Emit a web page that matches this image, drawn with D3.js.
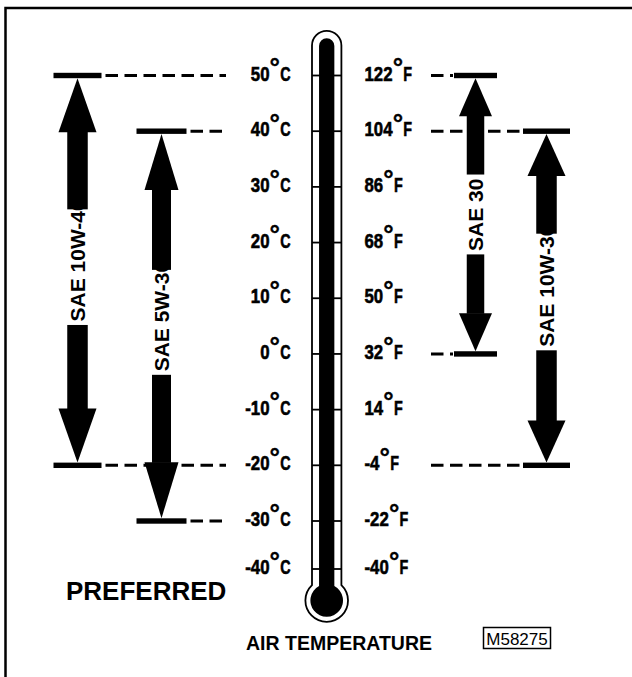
<!DOCTYPE html>
<html>
<head>
<meta charset="utf-8">
<script src="https://cdn.jsdelivr.net/npm/d3@7"></script>
<style>
  body { margin: 0; background: #fff; }
  svg { display: block; }
</style>
</head>
<body>
<script>
// thermometer scale, as printed
let celsius = [50, 40, 30, 20, 10, 0, -10, -20, -30, -40];
let fahrenheit = [122, 104, 86, 68, 50, 32, 14, -4, -22, -40];

// oil grades and the air temperature range (deg C) each one covers
let grades = ['SAE 10W-40', 'SAE 5W-30', 'SAE 30', 'SAE 10W-30'];
let gradeLow = [-20, -30, 0, -20];
let gradeHigh = [50, 40, 50, 40];
let gradeSide = ['left', 'left', 'right', 'right'];

// drawing look for each arrow (px)
let arrowLook = {
  'SAE 10W-40': {bar: 48, shaft: 20.5, head: 38, headLen: 54, shift: -5, hide: 10},
  'SAE 5W-30': {bar: 50, shaft: 19, head: 34, headLen: 56, shift: -5.5, hide: 9},
  'SAE 30': {bar: 43, shaft: 17.5, head: 33, headLen: 38, shift: -2, hide: -4},
  'SAE 10W-30': {bar: 47, shaft: 20.5, head: 38, headLen: 42, shift: -8, hide: 9}
};

let sans = '"Liberation Sans", Arial, Helvetica, sans-serif';

let svg = d3.select('body').append('svg').attr('width', 632).attr('height', 677);

// the -40 mark sits a bit closer to -30 than the other steps on the original
let y = d3.scaleLinear().domain([50, -30, -40]).range([75.5, 521, 569]);
let x = d3.scaleOrdinal().domain(grades).range([77.5, 161.5, 475.5, 546.5]);

let thermoX = 326.7;
let barH = 5.4;

// frame (only top and left edges are on the page)
svg.append('path')
  .attr('d', 'M5.5,677 L5.5,8 L632,8')
  .attr('fill', 'none').attr('stroke', 'black').attr('stroke-width', 2.5);

// dashed leader lines
let grp = grades.map(function(g, i) {
  return {name: g, lo: gradeLow[i], hi: gradeHigh[i], side: gradeSide[i]};
});
let leaders = [];
grp.forEach(function(d) {
  [d.lo, d.hi].forEach(function(t) {
    let half = arrowLook[d.name].bar / 2;
    if (d.side === 'left') {
      leaders.push({t: t, x1: x(d.name) + half + 4, x2: 226});
    } else {
      leaders.push({t: t, x1: 431, x2: x(d.name) - half - 1});
    }
  });
});
svg.selectAll('line.leader').data(leaders).enter().append('line')
  .attr('class', 'leader')
  .attr('x1', function(d) {return d.x1})
  .attr('x2', function(d) {return d.x2})
  .attr('y1', function(d) {return y(d.t)})
  .attr('y2', function(d) {return y(d.t)})
  .attr('stroke', 'black').attr('stroke-width', 3)
  .attr('stroke-dasharray', '12.5,6.5');

// thermometer
function tube(halfW, topY, bulbCy, bulbR) {
  let joinY = bulbCy - Math.sqrt(bulbR * bulbR - halfW * halfW);
  return 'M' + (thermoX - halfW) + ',' + topY +
    ' A' + halfW + ',' + halfW + ' 0 0 1 ' + (thermoX + halfW) + ',' + topY +
    ' L' + (thermoX + halfW) + ',' + joinY +
    ' A' + bulbR + ',' + bulbR + ' 0 1 1 ' + (thermoX - halfW) + ',' + joinY + ' Z';
}
svg.append('path')
  .attr('d', tube(14.7, 45.6, 600.5, 21.3))
  .attr('fill', 'white').attr('stroke', 'black').attr('stroke-width', 1.8);
svg.selectAll('line.tick').data(celsius).enter().append('line')
  .attr('class', 'tick')
  .attr('x1', thermoX - 14.7).attr('x2', thermoX + 14.7)
  .attr('y1', function(d) {return y(d)})
  .attr('y2', function(d) {return y(d)})
  .attr('stroke', 'black').attr('stroke-width', 1.8);
svg.append('path')
  .attr('d', tube(7.65, 46, 600.5, 16.3))
  .attr('fill', 'black');

// scale labels: condensed heavy numbers, a raised ring for the degree sign
let numScale = 0.82, unitScale = 0.7;
function scaleLabel(values, unit, side) {
  let rows = svg.selectAll('g.' + unit).data(values).enter().append('g')
    .attr('class', unit)
    .attr('transform', function(d, i) {return 'translate(0,' + y(celsius[i]) + ')'});
  rows.each(function(v) {
    let r = d3.select(this);
    let num = r.append('text')
      .text(v)
      .attr('font-family', sans).attr('font-weight', 'bold').attr('font-size', 20.5)
      .attr('stroke', 'black').attr('stroke-width', 0.6);
    let w = num.node().getComputedTextLength() * numScale;
    let x0 = side === 'left' ? 269.5 - w : 364.5;
    num.attr('transform', 'translate(' + x0 + ',5) scale(' + numScale + ',1)');
    let degX = x0 + w + 5.3;
    r.append('text')
      .text('°')
      .attr('x', degX).attr('y', 0.8)
      .attr('text-anchor', 'middle')
      .attr('font-family', sans).attr('font-weight', 'bold').attr('font-size', 26)
      .attr('stroke', 'black').attr('stroke-width', 0.4);
    r.append('text')
      .text(unit)
      .attr('transform', 'translate(' + (degX + 5.4) + ',5) scale(' + unitScale + ',1)')
      .attr('font-family', sans).attr('font-weight', 'bold').attr('font-size', 20.5)
      .attr('stroke', 'black').attr('stroke-width', 0.6);
  });
}
scaleLabel(celsius, 'C', 'left');
scaleLabel(fahrenheit, 'F', 'right');

// grade arrows
let arrows = svg.selectAll('g.grade').data(grp).enter().append('g').attr('class', 'grade');

arrows.each(function(d) {
  let g = d3.select(this);
  let k = arrowLook[d.name];
  let cx = x(d.name);
  let top = y(d.hi) + barH / 2;
  let bot = y(d.lo) - barH / 2;

  [d.hi, d.lo].forEach(function(t) {
    g.append('rect')
      .attr('x', cx - k.bar / 2).attr('y', y(t) - barH / 2)
      .attr('width', k.bar).attr('height', barH)
      .attr('fill', 'black');
  });
  g.append('path')
    .attr('d', 'M' + cx + ',' + top + ' L' + (cx + k.head / 2) + ',' + (top + k.headLen) +
      ' L' + (cx - k.head / 2) + ',' + (top + k.headLen) + ' Z')
    .attr('fill', 'black');
  g.append('path')
    .attr('d', 'M' + cx + ',' + bot + ' L' + (cx + k.head / 2) + ',' + (bot - k.headLen) +
      ' L' + (cx - k.head / 2) + ',' + (bot - k.headLen) + ' Z')
    .attr('fill', 'black');

  let fs = 21;
  let label = g.append('text')
    .text(d.name)
    .attr('font-family', sans).attr('font-weight', 'bold').attr('font-size', fs);
  let len = label.node().getComputedTextLength();
  let visible = len - k.hide;
  let mid = (y(d.hi) + y(d.lo)) / 2 + k.shift;
  let textBottom = mid + visible / 2;
  let cutTop = mid - visible / 2;
  label.attr('transform', 'translate(' + (cx + fs * 0.716 / 2) + ',' + textBottom + ') rotate(-90)');

  g.append('rect')
    .attr('x', cx - k.shaft / 2).attr('y', top + k.headLen - 0.5)
    .attr('width', k.shaft).attr('height', cutTop - (top + k.headLen - 0.5))
    .attr('fill', 'black');
  g.append('rect')
    .attr('x', cx - k.shaft / 2).attr('y', textBottom + 3.5)
    .attr('width', k.shaft).attr('height', (bot - k.headLen + 0.5) - (textBottom + 3.5))
    .attr('fill', 'black');
});

// captions
svg.append('text')
  .attr('x', 66).attr('y', 600)
  .attr('font-family', sans).attr('font-weight', 'bold').attr('font-size', 26)
  .text('PREFERRED');
svg.append('text')
  .attr('x', 339).attr('y', 650)
  .attr('text-anchor', 'middle')
  .attr('font-family', sans).attr('font-weight', 'bold').attr('font-size', 19.5)
  .text('AIR TEMPERATURE');
svg.append('rect')
  .attr('x', 483.5).attr('y', 627.5).attr('width', 67).attr('height', 21)
  .attr('fill', 'none').attr('stroke', 'black').attr('stroke-width', 1.5);
svg.append('text')
  .attr('x', 517).attr('y', 644.5)
  .attr('text-anchor', 'middle')
  .attr('font-family', sans).attr('font-size', 17)
  .text('M58275');
</script>
</body>
</html>
